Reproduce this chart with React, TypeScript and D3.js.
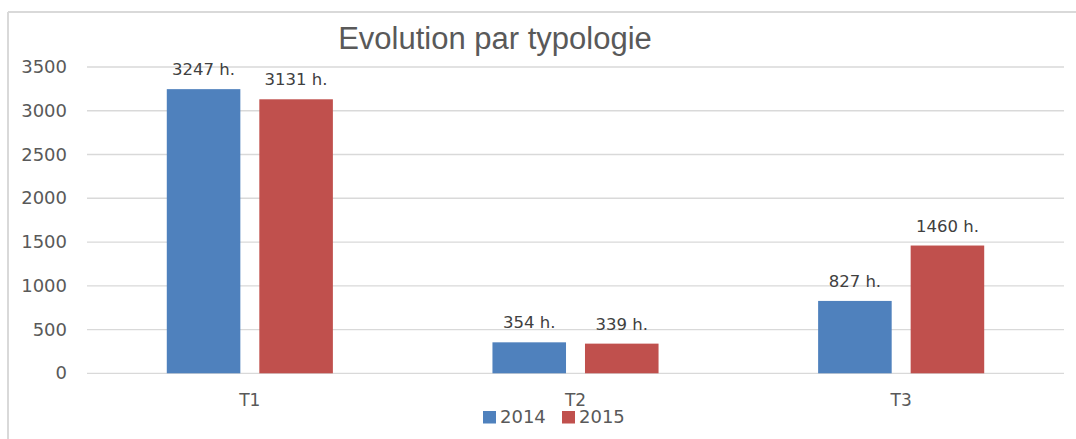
import React, { useEffect } from "react";
import * as d3 from "d3";

const categories = ["T1", "T2", "T3"];
const seriesNames = ["2014", "2015"];
const values2014 = [3247, 354, 827];
const values2015 = [3131, 339, 1460];
const yTicks = [0, 500, 1000, 1500, 2000, 2500, 3000, 3500];
const colors = ["#4F81BD", "#C0504D"];
const title = "Evolution par typologie";

const W = 1076;
const H = 439;
const left = 87;
const right = 1064;
const top = 67;
const bottom = 373.3;

export default function App() {
  useEffect(() => {
    document.body.style.margin = "0";
  }, []);

  const x = d3.scaleBand<string>().domain(categories).range([left, right]).paddingInner(0).paddingOuter(0);
  const bw = x.bandwidth();
  const xs = d3
    .scaleBand<string>()
    .domain(seriesNames)
    .range([bw * 0.245, bw * 0.755])
    .paddingInner(0.205)
    .paddingOuter(0);
  const y = d3.scaleLinear().domain([0, 3500]).range([bottom, top]);
  const series = [values2014, values2015];
  const font = "'DejaVu Sans', sans-serif";

  return (
    <svg width={W} height={H} style={{ display: "block" }}>
      <rect x={0} y={0} width={W} height={H} fill="#fff" />
      <line x1={8} x2={W} y1={12} y2={12} stroke="#D9D9D9" strokeWidth={2} />
      <line x1={8} x2={8} y1={12} y2={H} stroke="#D9D9D9" strokeWidth={2} />
      <text x={495} y={49} textAnchor="middle" fontFamily="'Liberation Sans', Arial, sans-serif" fontSize={31} fill="#595959">
        {title}
      </text>
      {yTicks.map((t) => (
        <g key={t}>
          <line x1={left} x2={right} y1={y(t)} y2={y(t)} stroke="#D9D9D9" strokeWidth={1.3} />
          <text x={67} y={y(t) + 6} textAnchor="end" fontFamily={font} fontSize={18} fill="#595959">
            {t}
          </text>
        </g>
      ))}
      {categories.map((c, i) => (
        <g key={c}>
          {series.map((vals, s) => {
            const bx = (x(c) as number) + (xs(seriesNames[s]) as number);
            return (
              <g key={s}>
                <rect x={bx} y={y(vals[i])} width={xs.bandwidth()} height={bottom - y(vals[i])} fill={colors[s]} />
                <text
                  x={bx + xs.bandwidth() / 2}
                  y={y(vals[i]) - 14}
                  textAnchor="middle"
                  fontFamily={font}
                  fontSize={16.5}
                  fill="#404040"
                >
                  {vals[i] + " h."}
                </text>
              </g>
            );
          })}
          <text x={(x(c) as number) + bw / 2} y={406} textAnchor="middle" fontFamily={font} fontSize={17} fill="#595959">
            {c}
          </text>
        </g>
      ))}
      {seriesNames.map((n, s) => (
        <g key={n} transform={`translate(${483 + s * 79},0)`}>
          <rect x={0} y={411} width={13} height={12.5} fill={colors[s]} />
          <text x={17} y={423} fontFamily={font} fontSize={18} fill="#595959">
            {n}
          </text>
        </g>
      ))}
    </svg>
  );
}
